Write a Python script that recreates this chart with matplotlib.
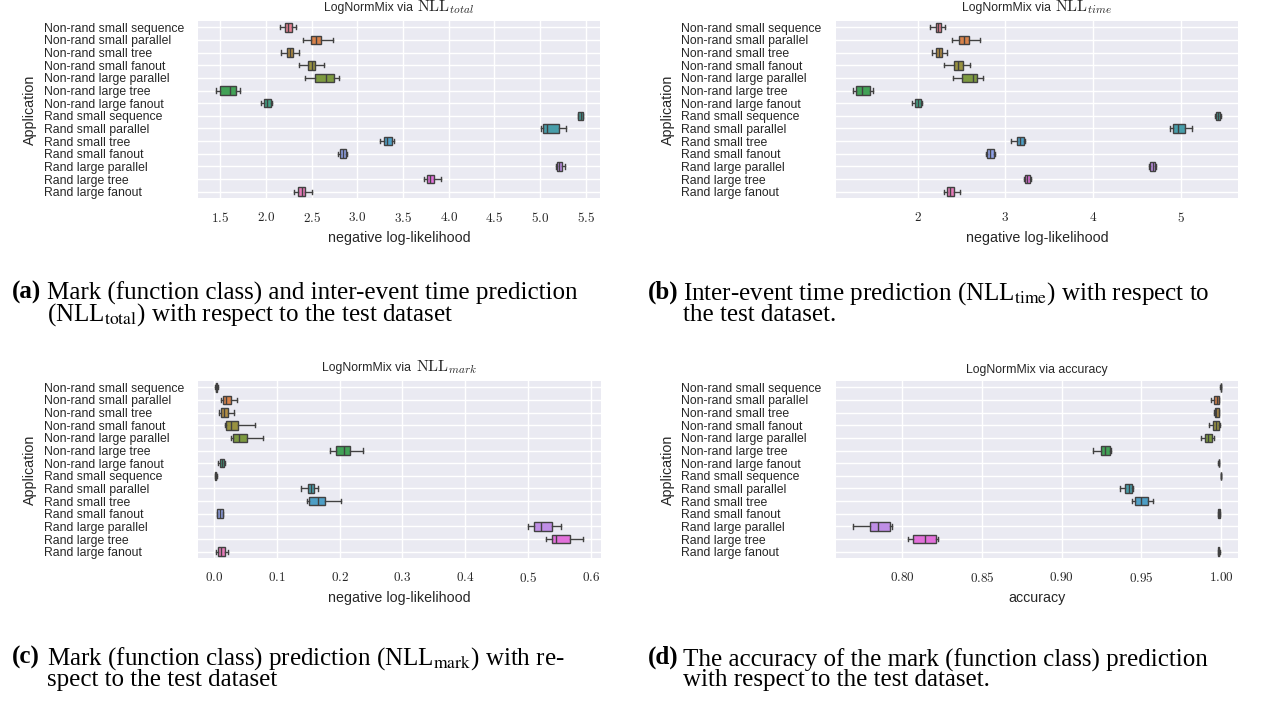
import matplotlib
matplotlib.use("Agg")
import matplotlib.pyplot as plt
from matplotlib.offsetbox import TextArea, HPacker, AnchoredOffsetbox
import seaborn as sns
import colorsys

categories = [
    "Non-rand small sequence", "Non-rand small parallel", "Non-rand small tree",
    "Non-rand small fanout", "Non-rand large parallel", "Non-rand large tree",
    "Non-rand large fanout", "Rand small sequence", "Rand small parallel",
    "Rand small tree", "Rand small fanout", "Rand large parallel",
    "Rand large tree", "Rand large fanout",
]

# (a) NLL total
a_whislo = [2.15, 2.40, 2.16, 2.36, 2.43, 1.45, 1.95, 5.415, 5.01, 3.25, 2.79, 5.18, 3.73, 2.31]
a_q1     = [2.21, 2.49, 2.23, 2.46, 2.54, 1.50, 1.98, 5.420, 5.03, 3.29, 2.81, 5.19, 3.76, 2.35]
a_med    = [2.24, 2.55, 2.26, 2.50, 2.66, 1.61, 2.01, 5.445, 5.08, 3.33, 2.845, 5.21, 3.80, 2.39]
a_q3     = [2.28, 2.60, 2.29, 2.54, 2.74, 1.67, 2.05, 5.470, 5.21, 3.38, 2.875, 5.24, 3.84, 2.43]
a_whishi = [2.33, 2.73, 2.36, 2.63, 2.80, 1.71, 2.06, 5.475, 5.28, 3.40, 2.89, 5.27, 3.92, 2.50]

# (b) NLL time
b_whislo = [2.144, 2.386, 2.158, 2.302, 2.40, 1.26, 1.94, 5.395, 4.874, 3.06, 2.78, 4.637, 3.209, 2.30]
b_q1     = [2.205, 2.474, 2.214, 2.419, 2.502, 1.30, 1.967, 5.405, 4.907, 3.13, 2.79, 4.651, 3.219, 2.335]
b_med    = [2.237, 2.526, 2.242, 2.465, 2.628, 1.37, 2.00, 5.428, 4.967, 3.167, 2.823, 4.679, 3.247, 2.372]
b_q3     = [2.270, 2.586, 2.274, 2.516, 2.679, 1.456, 2.037, 5.451, 5.047, 3.209, 2.865, 4.707, 3.279, 2.419]
b_whishi = [2.316, 2.712, 2.340, 2.595, 2.744, 1.488, 2.047, 5.460, 5.126, 3.223, 2.884, 4.721, 3.293, 2.484]

# (c) NLL mark
c_whislo = [0.002, 0.012, 0.008, 0.017, 0.028, 0.184, 0.007, 0.0015, 0.138, 0.148, 0.0045, 0.499, 0.529, 0.004]
c_q1     = [0.003, 0.014, 0.012, 0.020, 0.031, 0.194, 0.0097, 0.0022, 0.150, 0.152, 0.005, 0.510, 0.538, 0.007]
c_med    = [0.004, 0.019, 0.016, 0.028, 0.040, 0.207, 0.013, 0.0030, 0.155, 0.166, 0.0097, 0.521, 0.545, 0.011]
c_q3     = [0.0055, 0.027, 0.022, 0.038, 0.053, 0.217, 0.016, 0.0038, 0.160, 0.177, 0.014, 0.538, 0.566, 0.017]
c_whishi = [0.007, 0.036, 0.032, 0.065, 0.078, 0.238, 0.017, 0.0045, 0.166, 0.203, 0.015, 0.553, 0.588, 0.022]

# (d) accuracy
d_whislo = [0.9995, 0.9935, 0.9955, 0.9926, 0.9875, 0.9197, 0.9982, 0.9997, 0.9363, 0.9441, 0.9980, 0.7694, 0.8038, 0.9980]
d_q1     = [0.9996, 0.9952, 0.9959, 0.9949, 0.9900, 0.9247, 0.9983, 0.9998, 0.9400, 0.9462, 0.9981, 0.7799, 0.8069, 0.9981]
d_med    = [0.9997, 0.9975, 0.9970, 0.9970, 0.9915, 0.9270, 0.9985, 0.9999, 0.9420, 0.9500, 0.9985, 0.7849, 0.8144, 0.9985]
d_q3     = [0.9999, 0.9985, 0.9985, 0.9985, 0.9940, 0.9305, 0.9987, 0.99995, 0.9440, 0.9543, 0.9990, 0.7922, 0.8212, 0.9988]
d_whishi = [1.0000, 0.9987, 0.9988, 0.9990, 0.9955, 0.9311, 0.9988, 1.0000, 0.9445, 0.9574, 0.9992, 0.7934, 0.8224, 0.9990]

title_text = ["LogNormMix via", "LogNormMix via", "LogNormMix via", "LogNormMix via accuracy"]
title_math = [r"$\mathrm{NLL}_{total}$", r"$\mathrm{NLL}_{time}$", r"$\mathrm{NLL}_{mark}$", None]
xlabels = ["negative log-likelihood", "negative log-likelihood", "negative log-likelihood", "accuracy"]
xticks_a = [1.5, 2.0, 2.5, 3.0, 3.5, 4.0, 4.5, 5.0, 5.5]
xticks_b = [2, 3, 4, 5]
xticks_c = [0.0, 0.1, 0.2, 0.3, 0.4, 0.5, 0.6]
xticks_d = [0.80, 0.85, 0.90, 0.95, 1.00]

captions = [
    ("(a)", ["Mark (function class) and inter-event time prediction",
             r"(NLL$_{\mathrm{total}}$) with respect to the test dataset"]),
    ("(b)", [r"Inter-event time prediction (NLL$_{\mathrm{time}}$) with respect to",
             "the test dataset."]),
    ("(c)", [r"Mark (function class) prediction (NLL$_{\mathrm{mark}}$) with re-",
             "spect to the test dataset"]),
    ("(d)", ["The accuracy of the mark (function class) prediction",
             "with respect to the test dataset."]),
]

plt.rcParams["mathtext.fontset"] = "cm"
plt.rcParams["font.family"] = ["Liberation Sans", "DejaVu Sans"]
TXT = "#262626"

W, H = 1279, 702
fig = plt.figure(figsize=(W / 100, H / 100), dpi=100)

pal = sns.color_palette("husl", len(categories))
pal = [sns.desaturate(c, 0.75) for c in pal]
lum = min(colorsys.rgb_to_hls(*c)[1] for c in pal) * 0.6
gray = (lum, lum, lum)

panels = [
    (a_whislo, a_q1, a_med, a_q3, a_whishi, (1.255, 5.657), xticks_a, "{:.1f}"),
    (b_whislo, b_q1, b_med, b_q3, b_whishi, (1.069, 5.652), xticks_b, "{:.0f}"),
    (c_whislo, c_q1, c_med, c_q3, c_whishi, (-0.0253, 0.6159), xticks_c, "{:.1f}"),
    (d_whislo, d_q1, d_med, d_q3, d_whishi, (0.7586, 1.0105), xticks_d, "{:.2f}"),
]
# axes rectangles in pixels: left, top, right, bottom ; left edge of y tick labels
rects = [(198, 21, 600, 198), (836, 21, 1238, 198), (198, 381, 601, 558), (836, 381, 1238, 558)]
label_left = [44, 681, 44, 681]

for i, (wl, q1, md, q3, wh, xlim, xt, fmt) in enumerate(panels):
    l, t, r, b = rects[i]
    ax = fig.add_axes([l / W, 1 - b / H, (r - l) / W, (b - t) / H])
    ax.set_facecolor("#EAEAF2")
    for s in ax.spines.values():
        s.set_visible(False)
    ax.set_axisbelow(True)
    ax.grid(True, color="white", linewidth=1.0)
    stats = [dict(whislo=wl[k], q1=q1[k], med=md[k], q3=q3[k], whishi=wh[k], fliers=[])
             for k in range(len(categories))]
    bp = ax.bxp(stats, positions=list(range(len(categories))), orientation="horizontal",
                widths=0.68, patch_artist=True, showfliers=False,
                boxprops=dict(edgecolor=gray, linewidth=1.0),
                whiskerprops=dict(color=gray, linewidth=1.0),
                capprops=dict(color=gray, linewidth=1.0),
                medianprops=dict(color=gray, linewidth=1.0))
    for patch, c in zip(bp["boxes"], pal):
        patch.set_facecolor(c)
    ax.set_ylim(len(categories) - 0.5, -0.5)
    ax.set_yticks(range(len(categories)))
    ax.set_yticklabels(categories, fontsize=8.8, color=TXT, ha="left")
    ax.set_xlim(*xlim)
    ax.set_xticks(xt)
    ax.set_xticklabels(["$" + fmt.format(v) + "$" for v in xt], fontsize=9.5, color=TXT)
    ax.tick_params(axis="x", length=0, pad=9.5)
    ax.tick_params(axis="y", length=0, pad=(l - label_left[i]) * 0.72)
    ax.set_xlabel(xlabels[i], fontsize=10.3, labelpad=4, color=TXT)
    ax.set_ylabel("Application", fontsize=10.3, color=TXT)
    ax.yaxis.set_label_coords(-0.4, 0.5)

    parts = [TextArea(title_text[i], textprops=dict(fontsize=8.8, color=TXT))]
    if title_math[i] is not None:
        parts.append(TextArea(title_math[i], textprops=dict(fontsize=11.5, color=TXT)))
    pack = HPacker(children=parts, align="baseline", pad=0, sep=3)
    anch = AnchoredOffsetbox(loc="lower center", child=pack, pad=0, borderpad=0, frameon=False,
                             bbox_to_anchor=(0.5, 1.0 + 5 / (b - t)), bbox_transform=ax.transAxes)
    ax.add_artist(anch)

# captions: bold label plus one two-line text block (anchored at last line's baseline)
cap_pos = [(12, 299), (648, 299), (12, 664), (648, 664)]
for (lab, lines), (x0, y0) in zip(captions, cap_pos):
    fig.text(x0 / W, 1 - y0 / H, lab, fontsize=18, fontweight="bold",
             family="Liberation Serif", va="baseline", ha="left")
    fig.text((x0 + 35) / W, 1 - (y0 + 22) / H, "\n".join(lines), fontsize=18, linespacing=0.8,
             family="Liberation Serif", math_fontfamily="stix", va="baseline", ha="left")

fig.savefig("out.png", dpi=100)
